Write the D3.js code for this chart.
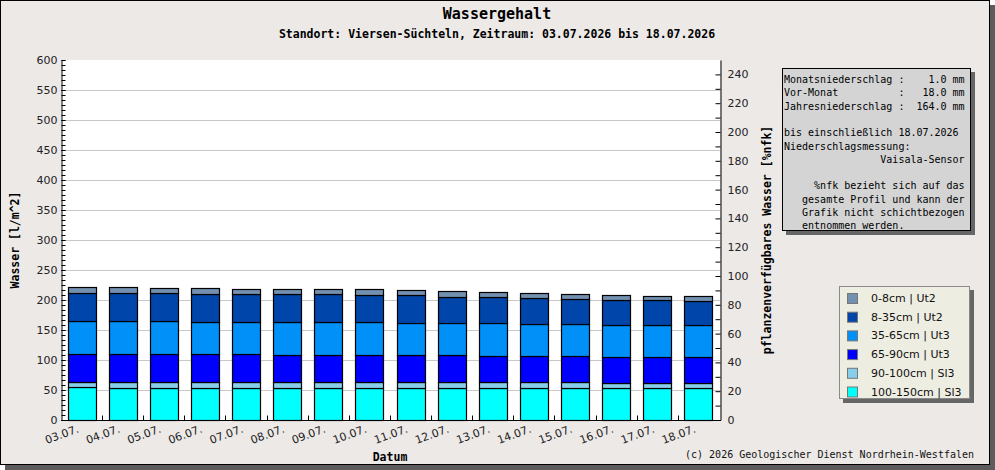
<!DOCTYPE html>
<html><head><meta charset="utf-8">
<script src="https://cdn.jsdelivr.net/npm/d3@7"></script>
<style>
html,body{margin:0;padding:0;background:#fff;}
text{white-space:pre;}
</style></head>
<body>
<svg id="c" width="995" height="470"></svg>
<script>
const dates = ["03.07.","04.07.","05.07.","06.07.","07.07.","08.07.","09.07.","10.07.","11.07.","12.07.","13.07.","14.07.","15.07.","16.07.","17.07.","18.07."];
// layer thickness in l/m^2, bottom to top
const layer100_150 = [54.5,52.8,52.8,52.8,52.8,52.8,52.8,52.8,52.8,52.8,52.8,52.8,52.8,52.8,52.8,52.8];
const layer90_100  = [9.5,11.2,11.2,11.2,11.2,11.2,11.2,11.2,11.2,11.2,11.2,11.2,11.2,9.2,9.2,9.2];
const layer65_90   = [46,46,46,46,46,44,44,44,44,44,42,42,42,42.5,42.5,42.5];
const layer35_65   = [55.5,55.5,55.5,54,54,56,56,56,54,54,56,54.5,54.5,54.5,54.5,54.5];
const layer8_35    = [46.5,45.5,45.5,45.5,45.5,45.5,45.5,44,46,42.5,42.5,42.5,40.5,40.5,40.5,39];
const layer0_8     = [9,10,8.5,10,8.5,8.5,8.5,10,8,10,8.5,8,8.5,8.5,6.5,8];
const layerNames = ["100-150cm | Sl3","90-100cm | Sl3","65-90cm | Ut3","35-65cm | Ut3","8-35cm | Ut2","0-8cm | Ut2"];
const layerColors = ["#00ffff","#87ceeb","#0000ff","#0090f8","#0046aa","#7490b0"];
const layers = [layer100_150, layer90_100, layer65_90, layer35_65, layer8_35, layer0_8];
const leftTicks = [0,50,100,150,200,250,300,350,400,450,500,550,600];
const rightTicks = [0,20,40,60,80,100,120,140,160,180,200,220,240];
const infoLines = [
 "Monatsniederschlag :    1.0 mm",
 "Vor-Monat          :   18.0 mm",
 "Jahresniederschlag :  164.0 mm",
 "",
 "bis einschließlich 18.07.2026",
 "Niederschlagsmessung:",
 "                Vaisala-Sensor",
 "",
 "     %nfk bezieht sich auf das",
 "   gesamte Profil und kann der",
 "   Grafik nicht schichtbezogen",
 "   entnommen werden."
];

const svg = d3.select("#c");
const bg = "#ece9e7";
const mono = "'DejaVu Sans Mono', monospace";
const sans = "'DejaVu Sans', sans-serif";

// frame + shadow
svg.append("rect").attr("x",5).attr("y",5).attr("width",990).attr("height",465).attr("fill","#5c5c5c");
svg.append("rect").attr("x",0.5).attr("y",0.5).attr("width",989).attr("height",464).attr("fill",bg).attr("stroke","#000");

const L=61, R=720, T=60, B=420;
const x = d3.scaleBand().domain(dates).range([L, R-1]).paddingInner(0.32).paddingOuter(0.16);
const y = d3.scaleLinear().domain([0,600]).range([B,T]);
const y2 = d3.scaleLinear().domain([0,250]).range([B,T]);

svg.append("rect").attr("x",L).attr("y",T).attr("width",R-L).attr("height",B-T).attr("fill","#fff");

// gridlines
svg.append("g").selectAll("line").data(leftTicks.filter(d=>d>0 && d<600)).join("line")
  .attr("x1",L).attr("x2",R).attr("y1",d=>y(d)+0.5).attr("y2",d=>y(d)+0.5)
  .attr("stroke","#c8c8c8").attr("stroke-width",1);

// bars
const stackData = dates.map((d,i)=>{
  let acc=0; return layers.map((ly,k)=>{const y0=acc; acc+=ly[i]; return {date:d,k,y0,y1:acc};});
}).flat();
svg.append("g").selectAll("rect").data(stackData).join("rect")
  .attr("x",d=>Math.round(x(d.date))+0.5).attr("width",Math.round(x.bandwidth()))
  .attr("y",d=>Math.round(y(d.y1))+0.5).attr("height",d=>Math.round(y(d.y0))-Math.round(y(d.y1)))
  .attr("fill",d=>layerColors[d.k]).attr("stroke","#000").attr("stroke-width",1.2);

// left axis
const fmtAxis = g=>{g.select(".domain").attr("stroke","#000");g.selectAll("text").attr("font-family",sans).attr("font-size",11).attr("fill","#222");};
svg.append("g").attr("transform",`translate(${L+0.5},0)`)
  .call(d3.axisLeft(y).tickValues(leftTicks).tickSizeInner(-4).tickSizeOuter(0).tickPadding(4)).call(fmtAxis);
svg.append("g").attr("transform",`translate(${L+0.5},0)`)
  .call(d3.axisLeft(y).tickValues(d3.range(0,601,50/6)).tickSizeInner(-4).tickSizeOuter(0).tickFormat(""))
  .call(g=>g.select(".domain").remove());
// right axis
svg.append("g").attr("transform",`translate(${R+0.5},0)`)
  .call(d3.axisRight(y2).tickValues(rightTicks).tickSizeInner(-5).tickSizeOuter(0).tickPadding(7)).call(fmtAxis);
svg.append("g").attr("transform",`translate(${R+0.5},0)`)
  .call(d3.axisRight(y2).tickValues(d3.range(10,250,20)).tickSizeInner(-5).tickSizeOuter(0).tickFormat(""))
  .call(g=>g.select(".domain").remove());
// bottom axis
const bx = svg.append("g").attr("transform",`translate(0,${B+0.5})`);
bx.append("line").attr("x1",L).attr("x2",R+1).attr("stroke","#000");
bx.selectAll("line.t").data(dates.slice(1)).join("line").attr("class","t")
  .attr("x1",d=>Math.round(x(d)-x.step()*0.16)+0.5).attr("x2",d=>Math.round(x(d)-x.step()*0.16)+0.5)
  .attr("y1",0).attr("y2",-5).attr("stroke","#000");
svg.append("g").selectAll("text").data(dates).join("text")
  .attr("transform",d=>`translate(${x(d)+x.bandwidth()/2-2},432) rotate(-20)`)
  .attr("text-anchor","end").attr("font-family",sans).attr("font-size",11).attr("fill","#222").text(d=>d);

// titles
svg.append("text").attr("x",497).attr("y",19).attr("text-anchor","middle").attr("font-family",mono).attr("font-size",15).attr("font-weight","bold").text("Wassergehalt");
svg.append("text").attr("x",497).attr("y",38).attr("text-anchor","middle").attr("font-family",mono).attr("font-size",11.5).attr("font-weight","bold").text("Standort: Viersen-Süchteln, Zeitraum: 03.07.2026 bis 18.07.2026");
svg.append("text").attr("transform","translate(19,240) rotate(-90)").attr("text-anchor","middle").attr("font-family",mono).attr("font-size",11.5).attr("font-weight","bold").text("Wasser [l/m^2]");
svg.append("text").attr("transform","translate(771,240) rotate(-90)").attr("text-anchor","middle").attr("font-family",mono).attr("font-size",11.5).attr("font-weight","bold").text("pflanzenverfügbares Wasser [%nfk]");
svg.append("text").attr("x",390).attr("y",461).attr("text-anchor","middle").attr("font-family",mono).attr("font-size",11.5).attr("font-weight","bold").text("Datum");
svg.append("text").attr("x",974).attr("y",458).attr("text-anchor","end").attr("font-family",mono).attr("font-size",10).attr("fill","#111").text("(c) 2026 Geologischer Dienst Nordrhein-Westfalen");

// info box
svg.append("rect").attr("x",786).attr("y",72).attr("width",189).attr("height",163).attr("fill","#666");
svg.append("rect").attr("x",782.5).attr("y",68.5).attr("width",188).attr("height",162).attr("fill","#d4d4d4").attr("stroke","#000");
svg.append("g").selectAll("text").data(infoLines).join("text")
  .attr("x",784).attr("y",(d,i)=>83+i*13.3).attr("font-family",mono).attr("font-size",10).attr("fill","#000").text(d=>d);

// legend
svg.append("rect").attr("x",843).attr("y",290).attr("width",131).attr("height",113).attr("fill","#666");
svg.append("rect").attr("x",839.5).attr("y",286.5).attr("width",130).attr("height",112).attr("fill","#eeede2").attr("stroke","#8a8a8a");
const legendOrder = [5,4,3,2,1,0];
const lg = svg.append("g").selectAll("g").data(legendOrder).join("g")
  .attr("transform",(d,i)=>`translate(847,${298+i*18.7})`);
lg.append("rect").attr("x",0.5).attr("y",-4.5).attr("width",10).attr("height",10).attr("fill",d=>layerColors[d]).attr("stroke","#777");
lg.append("text").attr("x",24).attr("y",4).attr("font-family",sans).attr("font-size",11).attr("fill","#111").text(d=>layerNames[d]);
</script>
</body></html>
